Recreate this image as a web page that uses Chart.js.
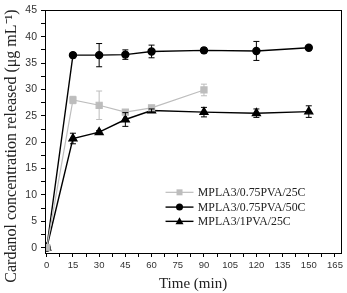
<!DOCTYPE html>
<html><head><meta charset="utf-8">
<script src="https://cdn.jsdelivr.net/npm/chart.js@4.4.1/dist/chart.umd.min.js"></script>
<style>html,body{margin:0;padding:0;background:#fff;}#wrap{width:347px;height:293px;}</style>
</head><body><div id="wrap"><canvas id="c" width="347" height="293"></canvas></div>
<script>
// ---- data ----
const seriesNames = ["MPLA3/0.75PVA/25C", "MPLA3/0.75PVA/50C", "MPLA3/1PVA/25C"];
const timesA = [0, 15, 30, 45, 60, 90];
const concA  = [0, 28.0, 27.0, 25.7, 26.5, 29.9];
const errA   = [0, 0.7, 2.7, 0.3, 0.4, 1.1];
const timesB = [0, 15, 30, 45, 60, 90, 120, 150];
const concB  = [0, 36.5, 36.5, 36.6, 37.2, 37.4, 37.3, 37.9];
const errB   = [0, 0.5, 2.2, 0.9, 1.2, 0.5, 1.8, 0];
const timesC = [0, 15, 30, 45, 60, 90, 120, 150];
const concC  = [0, 20.7, 21.9, 24.3, 26.0, 25.7, 25.5, 25.8];
const errC   = [0, 1.0, 0.3, 1.3, 0.3, 0.9, 0.8, 1.1];
const xTickValues = [0,7.5,15,22.5,30,37.5,45,52.5,60,67.5,75,82.5,90,97.5,105,112.5,120,127.5,135,142.5,150,157.5,165];
const yTickValues = [0,2.5,5,7.5,10,12.5,15,17.5,20,22.5,25,27.5,30,32.5,35,37.5,40,42.5,45];
const xTitle = "Time (min)";
const yTitle = "Cardanol concentration released (\u03bcg mL\u207b\u00b9)";

const pts = (xs, ys) => xs.map((x, i) => ({x: x, y: ys[i]}));
const SERIF = "'Liberation Serif','Times New Roman',serif";
const SANS = "'Liberation Sans',Arial,sans-serif";
const GRAY = '#bdbdbd';

const errorsByDataset = [errA, errB, errC];

const errorBarPlugin = {
  id: 'errorBars',
  afterDatasetsDraw(chart) {
    const ctx = chart.ctx, xs = chart.scales.x, ys = chart.scales.y;
    chart.data.datasets.forEach((ds, di) => {
      const errs = errorsByDataset[di];
      ctx.save();
      ctx.strokeStyle = ds.borderColor;
      ctx.lineWidth = 1;
      ds.data.forEach((p, i) => {
        const e = errs[i];
        if (!e) return;
        const px = xs.getPixelForValue(p.x);
        const top = ys.getPixelForValue(p.y + e);
        const bot = ys.getPixelForValue(p.y - e);
        ctx.beginPath();
        ctx.moveTo(px, top); ctx.lineTo(px, bot);
        ctx.moveTo(px - 3, top); ctx.lineTo(px + 3, top);
        ctx.moveTo(px - 3, bot); ctx.lineTo(px + 3, bot);
        ctx.stroke();
      });
      ctx.restore();
    });
  }
};

const framePlugin = {
  id: 'frame',
  afterDraw(chart) {
    const a = chart.chartArea, ctx = chart.ctx;
    ctx.save();
    ctx.strokeStyle = '#000';
    ctx.lineWidth = 1;
    ctx.strokeRect(Math.round(a.left) + 0.5, Math.round(a.top) + 0.5, Math.round(a.right - a.left), Math.round(a.bottom - a.top));
    // y axis title, placed as in the reference (slightly below the plot centre)
    ctx.translate(12, 146);
    ctx.rotate(-Math.PI / 2);
    ctx.fillStyle = '#222';
    ctx.font = '16px ' + SERIF;
    ctx.textAlign = 'center';
    ctx.textBaseline = 'middle';
    ctx.fillText(yTitle, 0, 0);
    ctx.restore();
  }
};

const legendPlugin = {
  id: 'insideLegend',
  afterDraw(chart) {
    const ctx = chart.ctx;
    const xs = chart.scales.x, ys = chart.scales.y;
    const x0 = xs.getPixelForValue(68), x1 = xs.getPixelForValue(84);
    const tx = xs.getPixelForValue(86.5);
    const rowsY = [10.5, 7.7, 5.0];
    ctx.save();
    chart.data.datasets.forEach((ds, i) => {
      const y = ys.getPixelForValue(rowsY[i]);
      ctx.strokeStyle = ds.borderColor;
      ctx.lineWidth = ds.borderWidth;
      ctx.beginPath(); ctx.moveTo(x0, y); ctx.lineTo(x1, y); ctx.stroke();
      const mx = (x0 + x1) / 2;
      ctx.fillStyle = ds.pointBackgroundColor;
      ctx.beginPath();
      if (ds.pointStyle === 'rect') {
        ctx.rect(mx - 3, y - 3, 6, 6);
      } else if (ds.pointStyle === 'triangle') {
        ctx.moveTo(mx, y - 4); ctx.lineTo(mx + 4, y + 3); ctx.lineTo(mx - 4, y + 3); ctx.closePath();
      } else {
        ctx.arc(mx, y, 3.5, 0, Math.PI * 2);
      }
      ctx.fill();
      ctx.fillStyle = '#222';
      ctx.font = '11.8px ' + SERIF;
      ctx.textBaseline = 'middle';
      ctx.textAlign = 'left';
      ctx.fillText(seriesNames[i], tx, y + 0.5);
    });
    ctx.restore();
  }
};

new Chart(document.getElementById('c'), {
  type: 'scatter',
  data: {
    datasets: [
      { label: seriesNames[0], data: pts(timesA, concA), showLine: true,
        borderColor: GRAY, backgroundColor: GRAY, pointBackgroundColor: GRAY, pointBorderColor: GRAY,
        borderWidth: 1.2, pointStyle: 'rect', pointRadius: 4.3, pointHoverRadius: 4.3 },
      { label: seriesNames[1], data: pts(timesB, concB), showLine: true,
        borderColor: '#000', backgroundColor: '#000', pointBackgroundColor: '#000', pointBorderColor: '#000',
        borderWidth: 1.4, pointStyle: 'circle', pointRadius: 3.5, pointHoverRadius: 3.5 },
      { label: seriesNames[2], data: pts(timesC, concC), showLine: true,
        borderColor: '#000', backgroundColor: '#000', pointBackgroundColor: '#000', pointBorderColor: '#000',
        borderWidth: 1.4, pointStyle: 'triangle', pointRadius: 4.5, pointHoverRadius: 4.5 }
    ]
  },
  options: {
    responsive: false,
    animation: false,
    events: [],
    layout: { padding: { top: 9, right: 4, left: 0, bottom: 0 } },
    plugins: { legend: { display: false }, tooltip: { enabled: false } },
    scales: {
      x: {
        type: 'linear', min: -1, max: 168.5,
        afterBuildTicks: s => { s.ticks = xTickValues.map(v => ({ value: v })); },
        afterFit: s => { s.height = 40; },
        ticks: { autoSkip: false, maxRotation: 0, padding: 3, color: '#333',
                 font: { family: SANS, size: 9.5 },
                 callback: v => (v % 15 === 0 ? String(v) : '') },
        grid: { drawOnChartArea: false, drawTicks: true, tickLength: 4, color: '#000', tickColor: '#000' },
        border: { display: true, color: '#000', width: 1 },
        title: { display: true, text: xTitle, color: '#222', font: { family: SERIF, size: 15 }, padding: { top: 2, bottom: 0 } }
      },
      y: {
        type: 'linear', min: -1, max: 45,
        afterBuildTicks: s => { s.ticks = yTickValues.map(v => ({ value: v })); },
        afterFit: s => { s.width = 45; },
        ticks: { autoSkip: false, padding: 4, color: '#333',
                 font: { family: SANS, size: 10.5 },
                 callback: v => (v % 5 === 0 ? String(v) : '') },
        grid: { drawOnChartArea: false, drawTicks: true, tickLength: 4, color: '#000', tickColor: '#000' },
        border: { display: true, color: '#000', width: 1 },
        title: { display: false }
      }
    }
  },
  plugins: [errorBarPlugin, framePlugin, legendPlugin]
});
</script>
</body></html>
